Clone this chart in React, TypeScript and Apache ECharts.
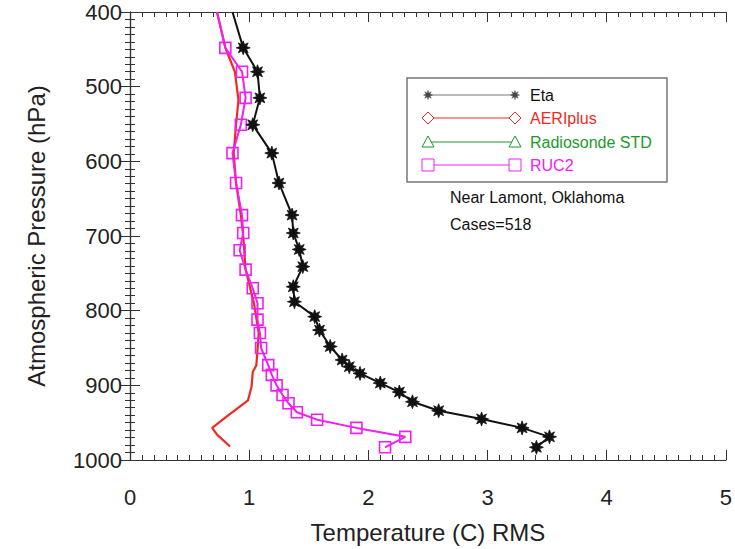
import React, { useEffect, useRef } from "react";
import * as echarts from "echarts";

// ---- Data (pressure in hPa, RMS temperature in C) ----
const etaPressure = [400, 448, 480, 515, 551, 589, 629, 672, 696, 718, 741, 768, 788, 808, 826, 848, 866, 875, 884, 897, 909, 922, 934, 945, 957, 969, 983];
const etaRms = [0.86, 0.95, 1.07, 1.09, 1.03, 1.19, 1.25, 1.36, 1.37, 1.42, 1.45, 1.37, 1.38, 1.55, 1.59, 1.68, 1.78, 1.84, 1.93, 2.1, 2.26, 2.37, 2.59, 2.95, 3.29, 3.52, 3.41];

const rucPressure = [400, 448, 480, 515, 551, 589, 629, 672, 696, 719, 745, 770, 790, 812, 830, 850, 873, 886, 900, 913, 924, 936, 946, 957, 969, 983];
const rucRms = [0.73, 0.8, 0.94, 0.97, 0.93, 0.86, 0.89, 0.94, 0.95, 0.92, 0.97, 1.03, 1.07, 1.07, 1.09, 1.1, 1.16, 1.19, 1.23, 1.28, 1.33, 1.4, 1.57, 1.9, 2.31, 2.14];

const aerPressure = [400, 448, 480, 518, 551, 589, 629, 672, 700, 745, 790, 830, 853, 873, 882, 902, 920, 930, 942, 957, 966, 982];
const aerRms = [0.73, 0.8, 0.88, 0.91, 0.89, 0.87, 0.89, 0.93, 0.95, 0.97, 1.04, 1.08, 1.07, 1.06, 1.03, 1.02, 0.99, 0.91, 0.81, 0.69, 0.73, 0.84];

const seriesNames = ["Eta", "AERIplus", "Radiosonde STD", "RUC2"];
const xTicks = [0, 1, 2, 3, 4, 5];
const yTicks = [400, 500, 600, 700, 800, 900, 1000];
const noteLines = ["Near Lamont, Oklahoma", "Cases=518"];

const FONT = "'Liberation Sans', Arial, Helvetica, sans-serif";
const BLACK = "#111111";
const RED = "#ee2a22";
const GREEN = "#1a9a2a";
const MAG = "#f020f0";
const AXIS = "#333333";

const STAR =
  "path://M20 10L14.6 11.9L17.07 17.07L11.9 14.6L10 20L8.1 14.6L2.93 17.07L5.4 11.9L0 10L5.4 8.1L2.93 2.93L8.1 5.4L10 0L11.9 5.4L17.07 2.93L14.6 8.1Z";

function pairs(xs: number[], ys: number[]) {
  return xs.map((x, i) => (i === 0 ? { value: [x, ys[i]], symbol: "none" } : [x, ys[i]]));
}

function starPoints(cx: number, cy: number, r: number, ri: number) {
  const pts: number[][] = [];
  for (let k = 0; k < 16; k++) {
    const a = (k * Math.PI) / 8;
    const rr = k % 2 === 0 ? r : ri;
    pts.push([cx + rr * Math.cos(a), cy + rr * Math.sin(a)]);
  }
  return pts;
}

function legendMarker(kind: string, cx: number, cy: number, color: string): any {
  if (kind === "star") {
    return { type: "polygon", shape: { points: starPoints(cx, cy, 4.5, 2) }, style: { fill: "#444", stroke: "#444", lineWidth: 0.5 } };
  }
  if (kind === "diamond") {
    return { type: "polygon", shape: { points: [[cx, cy - 6], [cx + 6, cy], [cx, cy + 6], [cx - 6, cy]] }, style: { fill: "#fff", stroke: color, lineWidth: 1 } };
  }
  if (kind === "triangle") {
    return { type: "polygon", shape: { points: [[cx, cy - 6], [cx + 6, cy + 5], [cx - 6, cy + 5]] }, style: { fill: "#fff", stroke: color, lineWidth: 1 } };
  }
  return { type: "rect", shape: { x: cx - 6, y: cy - 6, width: 12, height: 12 }, style: { fill: "#fff", stroke: color, lineWidth: 1 } };
}

const legendRows = [
  { name: seriesNames[0], color: BLACK, line: "#777", kind: "star" },
  { name: seriesNames[1], color: RED, line: RED, kind: "diamond" },
  { name: seriesNames[2], color: GREEN, line: GREEN, kind: "triangle" },
  { name: seriesNames[3], color: MAG, line: MAG, kind: "square" },
];

function buildGraphic() {
  const els: any[] = [];
  els.push({ type: "rect", shape: { x: 407, y: 78, width: 260, height: 104 }, style: { fill: "#fff", stroke: "#777", lineWidth: 1.5 } });
  const rowY = [95, 118, 142, 165];
  legendRows.forEach((r, i) => {
    const y = rowY[i];
    els.push({ type: "line", shape: { x1: 428, y1: y, x2: 515, y2: y }, style: { stroke: r.line, lineWidth: 1 } });
    els.push(legendMarker(r.kind, 428, y, r.color));
    els.push(legendMarker(r.kind, 515, y, r.color));
    els.push({ type: "text", x: 530, y, style: { text: r.name, fill: r.color, font: `16px ${FONT}`, verticalAlign: "middle", textAlign: "left" } });
  });
  els.push({ type: "text", x: 450, y: 197, style: { text: noteLines[0], fill: "#111", font: `16px ${FONT}`, verticalAlign: "middle" } });
  els.push({ type: "text", x: 450, y: 224, style: { text: noteLines[1], fill: "#111", font: `16px ${FONT}`, verticalAlign: "middle" } });
  return els;
}

const tickCommon = {
  axisLine: { show: true, lineStyle: { color: AXIS, width: 1.2 } },
  axisTick: { show: true, inside: true, length: 10, lineStyle: { color: AXIS, width: 1 } },
  minorTick: { show: true, splitNumber: 10, length: 5, lineStyle: { color: AXIS, width: 1 } },
  splitLine: { show: false },
  minorSplitLine: { show: false },
};

const plain = (v: number) => String(v);

export default function App() {
  const ref = useRef<HTMLDivElement>(null);
  useEffect(() => {
    if (!ref.current) return;
    const chart = echarts.init(ref.current, null, { renderer: "svg" });
    const option: any = {
      animation: false,
      backgroundColor: "#ffffff",
      textStyle: { fontFamily: FONT },
      grid: { left: 130, right: 8, top: 12, bottom: 89 },
      xAxis: [
        {
          type: "value",
          min: xTicks[0],
          max: xTicks[xTicks.length - 1],
          interval: 1,
          position: "bottom",
          name: "Temperature (C) RMS",
          nameLocation: "middle",
          nameGap: 60,
          nameTextStyle: { fontSize: 24, color: "#222", fontFamily: FONT },
          axisLabel: { fontSize: 22, color: "#222", margin: 26, fontFamily: FONT, formatter: plain },
          ...tickCommon,
        },
        {
          type: "value",
          min: xTicks[0],
          max: xTicks[xTicks.length - 1],
          interval: 1,
          position: "top",
          axisLabel: { show: false },
          ...tickCommon,
        },
      ],
      yAxis: [
        {
          type: "value",
          min: yTicks[0],
          max: yTicks[yTicks.length - 1],
          interval: 100,
          inverse: true,
          position: "left",
          name: "Atmospheric Pressure (hPa)",
          nameLocation: "middle",
          nameGap: 82,
          nameRotate: 90,
          nameTextStyle: { fontSize: 24, color: "#222", fontFamily: FONT },
          axisLabel: { fontSize: 22, color: "#222", margin: 8, fontFamily: FONT, formatter: plain },
          ...tickCommon,
        },
        {
          type: "value",
          min: yTicks[0],
          max: yTicks[yTicks.length - 1],
          interval: 100,
          inverse: true,
          position: "right",
          axisLabel: { show: false },
          ...tickCommon,
        },
      ],
      series: [
        {
          name: seriesNames[1],
          type: "line",
          data: pairs(aerRms, aerPressure),
          showSymbol: false,
          symbol: "none",
          lineStyle: { color: RED, width: 2.2 },
          clip: true,
          z: 2,
        },
        {
          name: seriesNames[2],
          type: "line",
          data: [],
          symbol: "triangle",
          lineStyle: { color: GREEN, width: 1 },
        },
        {
          name: seriesNames[3],
          type: "line",
          data: pairs(rucRms, rucPressure),
          symbol: "rect",
          symbolSize: 11,
          itemStyle: { color: "rgba(255,255,255,0)", borderColor: MAG, borderWidth: 1.6 },
          lineStyle: { color: MAG, width: 2 },
          clip: true,
          z: 3,
        },
        {
          name: seriesNames[0],
          type: "line",
          data: pairs(etaRms, etaPressure),
          symbol: STAR,
          symbolSize: 14,
          itemStyle: { color: BLACK, borderColor: BLACK, borderWidth: 0.8 },
          lineStyle: { color: BLACK, width: 2 },
          clip: true,
          z: 4,
        },
      ],
      graphic: buildGraphic(),
    };
    chart.setOption(option);
    return () => chart.dispose();
  }, []);
  return <div ref={ref} style={{ position: "fixed", left: 0, top: 0, width: 735, height: 549 }} />;
}
